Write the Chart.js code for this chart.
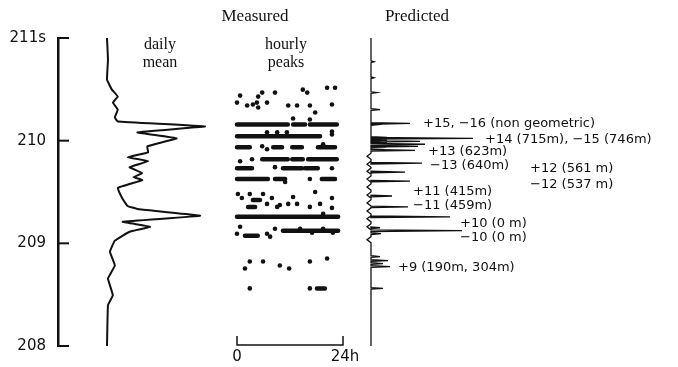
<!DOCTYPE html>
<html>
<head>
<meta charset="utf-8">
<script src="https://cdn.jsdelivr.net/npm/chart.js@4.4.1/dist/chart.umd.min.js"></script>
<style>
  html, body { margin: 0; background: #fff; }
</style>
</head>
<body>
<canvas id="chart" width="678" height="367"></canvas>
<script>
const ink = '#111';

// vertical axis: arrival time (s)
const timeTicks = [208, 209, 210, 211];

// daily mean trace (time in s, relative intensity)
const meanTime = [211.000, 210.787, 210.594, 210.497, 210.429, 210.371, 210.303, 210.226, 210.187,
  210.139, 210.081, 210.023, 209.945, 209.887, 209.839, 209.800, 209.742, 209.684, 209.645,
  209.616, 209.539, 209.432, 209.364, 209.335, 209.268, 209.210, 209.161, 209.113, 209.026,
  208.919, 208.784, 208.658, 208.494, 208.397, 208.000];
const meanValue = [0.0, 0.1, 0.0, 0.5, 1.1, 0.6, 1.1, 0.8, 1.1,
  10.0, 3.1, 7.1, 4.1, 4.2, 2.1, 4.2, 2.3, 3.6, 2.7,
  3.6, 1.1, 1.6, 2.1, 3.1, 9.5, 1.6, 4.4, 2.3, 0.8,
  0.3, 0.8, 0.1, 0.6, 0.1, 0.0];

// hourly peaks: runs of consecutive hours (time, first hour, last hour)
const runTime  = [210.158, 210.158, 210.158, 210.042, 209.936, 209.936, 209.936, 209.936,
  209.819, 209.819, 209.819, 209.732, 209.732, 209.732, 209.626, 209.626, 209.626,
  209.423, 209.355, 209.258, 209.123, 209.074, 208.561];
const runStart = [0.0, 12.7, 16.5, 0.0, 0.0, 8.2, 12.5, 18.3,
  5.7, 12.5, 16.1, 0.0, 10.4, 15.4, 0.0, 8.6, 19.2,
  3.6, 2.5, 0.0, 10.4, 1.8, 18.1];
const runEnd   = [11.5, 15.4, 22.6, 18.8, 2.9, 10.2, 14.7, 22.2,
  11.5, 14.9, 22.6, 3.4, 14.7, 18.3, 7.0, 10.9, 22.2,
  5.2, 4.1, 22.9, 22.9, 4.7, 19.9];

// hourly peaks: isolated hours
const dotHour = [14.9, 15.9, 20.4, 22.2, 5.7, 8.6, 0.7, 4.8,
  0.0, 2.3, 3.6, 4.5, 4.8, 6.8, 11.6, 13.6, 16.5, 21.5,
  17.7, 12.7, 16.5, 21.5, 6.8, 9.1, 11.3, 21.5,
  5.7, 6.8, 19.5, 0.7, 3.4, 8.6, 21.5, 16.5, 10.9,
  0.2, 2.9, 5.9, 17.7, 1.1, 7.9, 12.7, 21.5,
  6.8, 9.1, 9.7, 11.6, 13.6, 16.5, 18.8, 21.5, 19.5,
  0.7, 8.6, 0.0, 6.8, 7.5, 14.3, 17.0, 19.5, 21.7,
  2.9, 1.8, 5.9, 9.7, 11.8, 16.5, 20.4, 2.9, 16.5];
const dotTime = [210.497, 210.468, 210.516, 210.516, 210.468, 210.468, 210.439, 210.429,
  210.371, 210.342, 210.352, 210.371, 210.323, 210.371, 210.342, 210.342, 210.342, 210.352,
  210.274, 210.216, 210.206, 210.090, 210.081, 210.081, 210.081, 210.061,
  209.946, 209.917, 209.965, 209.800, 209.819, 209.742, 209.732, 209.626, 209.597,
  209.481, 209.481, 209.481, 209.500, 209.442, 209.442, 209.452, 209.442,
  209.384, 209.355, 209.374, 209.384, 209.384, 209.355, 209.384, 209.345, 209.287,
  209.161, 209.142, 209.094, 209.094, 209.065, 209.142, 209.103, 209.142, 209.103,
  208.823, 208.755, 208.823, 208.784, 208.755, 208.823, 208.852, 208.561, 208.561];

const hourTickValues = [0, 24];
const hourTickLabels = ['0', '24h'];

// predicted arrivals (time, amplitude)
const predTime = [210.768, 210.613, 210.468, 210.303, 210.168, 210.158, 210.032, 210.023,
  210.008, 209.994, 209.984, 209.965, 209.945, 209.936, 209.906, 209.781, 209.694,
  209.606, 209.461, 209.355, 209.258, 209.152, 209.123, 209.094, 208.871, 208.832,
  208.803, 208.774, 208.561];
const predAmp = [0.3, 0.3, 0.6, 0.9, 3.9, 0.8, 1.6, 10.2,
  1.6, 4.9, 1.6, 5.4, 4.7, 1.5, 4.4, 5.1, 3.4,
  3.9, 2.1, 3.7, 7.9, 0.9, 9.1, 1.0, 0.9, 1.7,
  1.2, 1.9, 1.2];
const rippleTime = [209.848, 209.771, 209.703, 209.626, 209.548, 209.471, 209.394,
  209.316, 209.239, 209.161, 209.036];
const rippleAmp = -0.4;

// ray labels
const rayLabels = ['+15, −16 (non geometric)', '+14 (715m), −15 (746m)', '+13 (623m)',
  '−13 (640m)', '+12 (561 m)', '−12 (537 m)', '+11 (415m)', '−11 (459m)',
  '+10 (0 m)', '−10 (0 m)', '+9 (190m, 304m)'];
const rayLabelAmp  = [5.2, 11.4, 5.7, 5.9, 15.9, 15.9, 4.2, 4.2, 8.9, 8.9, 2.7];
const rayLabelTime = [210.168, 210.013, 209.897, 209.761, 209.723, 209.568, 209.500,
  209.365, 209.190, 209.055, 208.765];

// chart area edges in px, used to line the hidden x scales up with each column
const areaLeft = 58, areaRight = 670;
const span = (v0, px0, v1, px1) => {
  const k = (v1 - v0) / (px1 - px0);
  return { min: v0 - (px0 - areaLeft) * k, max: v1 + (areaRight - px1) * k };
};

const meanData = meanTime.map((t, i) => ({ x: meanValue[i], y: t }));

const runData = [];
runTime.forEach((t, i) => {
  runData.push({ x: runStart[i], y: t }, { x: runEnd[i], y: t }, { x: NaN, y: NaN });
});

const dotData = dotHour.map((h, i) => ({ x: h, y: dotTime[i] }));

const events = predTime.map((t, i) => ({ t, a: predAmp[i], w: 0.008 }))
  .concat(rippleTime.map(t => ({ t, a: rippleAmp, w: 0.03 })))
  .sort((a, b) => b.t - a.t);
const predData = [{ x: 0, y: 211 }];
events.forEach(e => {
  predData.push({ x: 0, y: e.t + e.w }, { x: e.a, y: e.t }, { x: 0, y: e.t - e.w });
});
predData.push({ x: 0, y: 208 });

const overlay = {
  id: 'overlay',
  afterDraw(chart) {
    const { ctx, scales } = chart;
    const y = scales.y, xh = scales.xh, xp = scales.xp;
    ctx.save();
    ctx.strokeStyle = ink;
    ctx.fillStyle = ink;

    // inward ticks on the time axis
    ctx.lineWidth = 2;
    timeTicks.forEach(v => {
      const py = y.getPixelForValue(v);
      ctx.beginPath();
      ctx.moveTo(y.right, py);
      ctx.lineTo(y.right + 11, py);
      ctx.stroke();
    });

    // 0-24h bracket
    const x0 = xh.getPixelForValue(hourTickValues[0]);
    const x1 = xh.getPixelForValue(hourTickValues[1]);
    const by = 345;
    ctx.lineWidth = 1.5;
    ctx.beginPath();
    ctx.moveTo(x0, by - 9);
    ctx.lineTo(x0, by);
    ctx.lineTo(x1, by);
    ctx.lineTo(x1, by - 9);
    ctx.stroke();
    ctx.font = '15px "DejaVu Sans"';
    ctx.textAlign = 'center';
    ctx.textBaseline = 'middle';
    hourTickValues.forEach((h, i) => {
      ctx.fillText(hourTickLabels[i], xh.getPixelForValue(h) + (i ? 2 : 0), 357);
    });

    // column titles
    ctx.font = '17px "Liberation Serif"';
    ctx.fillText('Measured', 255, 17);
    ctx.fillText('Predicted', 417, 17);
    ctx.font = '16px "Liberation Serif"';
    ctx.fillText('daily', 160, 45);
    ctx.fillText('mean', 160, 63);
    ctx.fillText('hourly', 286, 45);
    ctx.fillText('peaks', 286, 63);

    // ray labels
    ctx.font = '13px "DejaVu Sans"';
    ctx.textAlign = 'left';
    rayLabels.forEach((txt, i) => {
      ctx.fillText(txt, xp.getPixelForValue(rayLabelAmp[i]), y.getPixelForValue(rayLabelTime[i]));
    });
    ctx.restore();
  }
};

new Chart(document.getElementById('chart'), {
  type: 'scatter',
  data: {
    datasets: [
      {
        label: 'daily mean',
        data: meanData,
        xAxisID: 'xm',
        showLine: true,
        borderColor: ink,
        borderWidth: 2,
        tension: 0.08,
        pointRadius: 0
      },
      {
        label: 'hourly peaks (runs)',
        data: runData,
        xAxisID: 'xh',
        showLine: true,
        spanGaps: false,
        borderColor: ink,
        borderWidth: 4.5,
        borderCapStyle: 'round',
        pointRadius: 0
      },
      {
        label: 'hourly peaks',
        data: dotData,
        xAxisID: 'xh',
        pointRadius: 2.3,
        pointBackgroundColor: ink,
        pointBorderWidth: 0
      },
      {
        label: 'predicted',
        data: predData,
        xAxisID: 'xp',
        showLine: true,
        borderColor: ink,
        borderWidth: 1.3,
        pointRadius: 0
      }
    ]
  },
  options: {
    responsive: false,
    animation: false,
    layout: { padding: { top: 38, bottom: 19, left: 0, right: 678 - areaRight } },
    plugins: { legend: { display: false }, tooltip: { enabled: false } },
    scales: {
      y: {
        type: 'linear',
        position: 'left',
        min: 208,
        max: 211,
        afterFit: s => { s.width = areaLeft; },
        afterBuildTicks: s => { s.ticks = timeTicks.map(v => ({ value: v })); },
        ticks: {
          color: ink,
          font: { family: 'DejaVu Sans', size: 15 },
          padding: 12,
          callback: v => (v === 211 ? '211s' : String(v))
        },
        grid: { drawOnChartArea: false, drawTicks: false },
        border: { color: ink, width: 2.5 }
      },
      xm: { type: 'linear', display: false, ...span(0, 107, 10, 205) },
      xh: { type: 'linear', display: false, ...span(0, 237, 24, 343) },
      xp: { type: 'linear', display: false, ...span(0, 371, 10, 471) }
    }
  },
  plugins: [overlay]
});
</script>
</body>
</html>
